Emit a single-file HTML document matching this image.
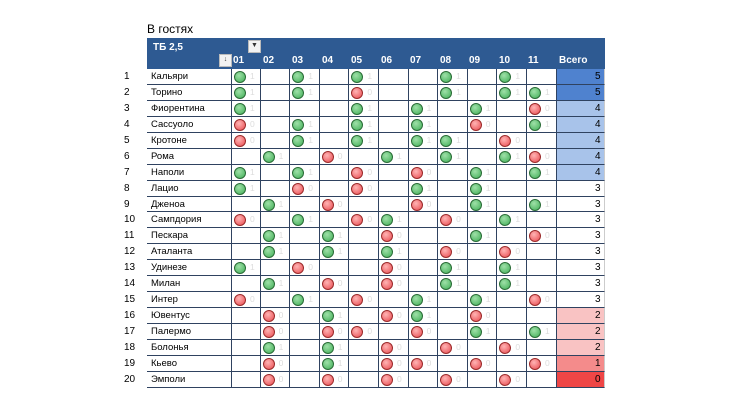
<!DOCTYPE html>
<html><head><meta charset="utf-8"><style>
body{margin:0;width:730px;height:411px;background:#fff;font-family:"Liberation Sans",sans-serif;position:relative;overflow:hidden}
.t{position:absolute;left:147px;top:22px;font-size:12px;color:#000}
.hd{position:absolute;left:147px;top:38px;width:458px;height:31px;background:#2e5a92}
.hd .tb{position:absolute;left:6px;top:4px;color:#fff;font-weight:bold;font-size:10px}
.dd{position:absolute;left:101px;top:2px;width:11px;height:11px;background:#f2f2f2;border:1px solid #bbb;font-size:7px;text-align:center;line-height:10px;color:#333}
.sb{position:absolute;left:72px;top:16px;width:11px;height:11px;background:#f2f2f2;border:1px solid #bbb;font-size:7px;text-align:center;line-height:10px;color:#333}
.cl{position:absolute;top:17px;color:#fff;font-weight:bold;font-size:10px}
.g{position:absolute;left:110px;top:69px;display:grid;grid-template-columns:37px 84px repeat(11,29.6px) 48px;grid-auto-rows:15.95px;font-size:9px}
.g>div{box-sizing:border-box;position:relative;border-bottom:1px solid #2f4260}
.g>.n{border-bottom:none;padding-left:14px;line-height:15px;font-size:10px}
.g>.m{padding-left:4px;line-height:15px;font-size:9.5px}
.g>.c{border-right:1px solid #2f4260}
.g>.c.f{border-left:1px solid #2f4260}
.g>.s{text-align:right;padding-right:3px;line-height:15px;font-size:10px;border-right:1px solid #ccc}
.c i{position:absolute;left:2px;top:2px;width:10px;height:10px;border-radius:50%;border:1px solid #2a6b36;background:radial-gradient(circle at 40% 35%,#9fe0a8,#3fae55)}
.c i.r{border-color:#9a2a2a;background:radial-gradient(circle at 40% 35%,#ffb4b4,#e8494e)}
.c b{position:absolute;left:18px;top:2px;font-weight:normal;color:#ddd;font-size:8.5px}
</style></head><body>
<div class="t">В гостях</div>
<div class="hd"><span class="tb">ТБ 2,5</span><div class="dd">▼</div><div class="sb">↓</div>
<span class="cl" style="left:86px">01</span><span class="cl" style="left:116px">02</span><span class="cl" style="left:145px">03</span><span class="cl" style="left:175px">04</span><span class="cl" style="left:204px">05</span><span class="cl" style="left:234px">06</span><span class="cl" style="left:263px">07</span><span class="cl" style="left:293px">08</span><span class="cl" style="left:322px">09</span><span class="cl" style="left:352px">10</span><span class="cl" style="left:381px">11</span><span class="cl" style="left:412px">Всего</span></div>
<div class="g" id="g"></div>
<script>
var names=["Кальяри","Торино","Фиорентина","Сассуоло","Кротоне","Рома","Наполи","Лацио","Дженоа","Сампдория","Пескара","Аталанта","Удинезе","Милан","Интер","Ювентус","Палермо","Болонья","Кьево","Эмполи"];
var d=["g.g.g..g.g.","g.g.r..g.gg","g...g.g.g.r","r.g.g.g.r.g","r.g.g.gg.r.",".g.r.g.g.gr","g.g.r.r.g.g","g.r.r.g.g..",".g.r..r.g.g","r.g.rg.r.g.",".g.g.r..g.r",".g.g.g.r.r.","g.r..r.g.g.",".g.r.r.g.g.","r.g.r.g.g.r",".r.g.rg.r..",".r.rr.r.g.g",".g.g.r.r.r.",".r.g.rr.r.r",".r.r.r.r.r."];
var tot=[5,5,4,4,4,4,4,3,3,3,3,3,3,3,3,2,2,2,1,0];
var bg={5:"#4f82cf",4:"#a8c3ea",3:"#fff",2:"#f9c3c3",1:"#f48b8b",0:"#ef4646"};
var h="";
for(var i=0;i<20;i++){h+='<div class="n">'+(i+1)+'</div><div class="m">'+names[i]+'</div>';
for(var j=0;j<11;j++){var c=d[i][j];h+='<div class="c'+(j==0?' f':'')+'">'+(c=='g'?'<i></i><b>1</b>':c=='r'?'<i class="r"></i><b>0</b>':'')+'</div>';}
h+='<div class="s" style="background:'+bg[tot[i]]+'">'+tot[i]+'</div>';}
document.getElementById('g').innerHTML=h;
</script>
</body></html>
